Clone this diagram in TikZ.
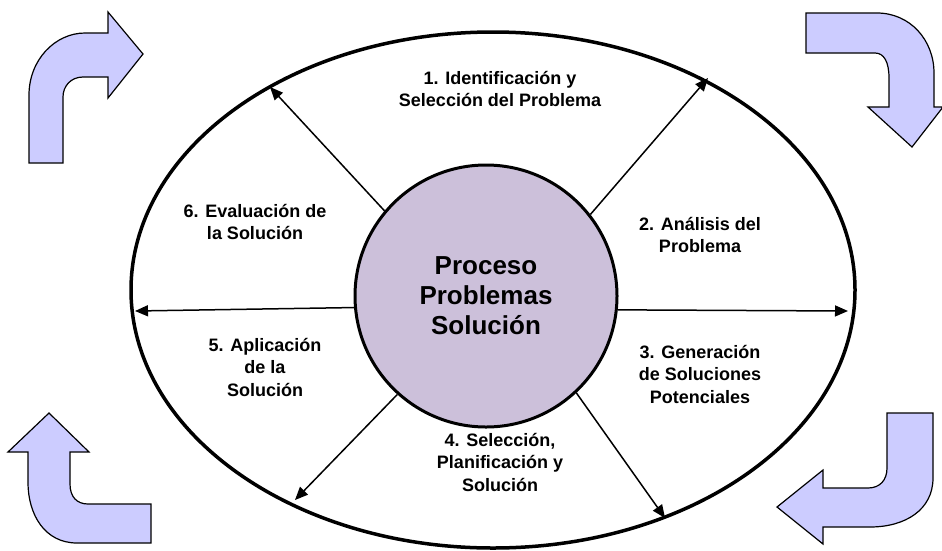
\documentclass[tikz,border=0pt]{standalone}
\usepackage{fontspec}
\setmainfont{Liberation Sans}
\usetikzlibrary{arrows.meta}
\definecolor{arrowfill}{RGB}{204,204,255}
\definecolor{hubfill}{RGB}{204,192,218}

\begin{document}
\begin{tikzpicture}[x=1pt,y=-1pt,>={Triangle[length=13pt,width=11pt]},
  stagetext/.style={align=center,font=\bfseries\fontsize{18}{22.5}\selectfont},
  bentarrow/.style={fill=arrowfill,draw=black,line width=1.2pt,line join=miter},
  spoke/.style={->,line width=1.5pt}]
\useasboundingbox (0,0) rectangle (942,550);

% Outer ring
\draw[line width=3.5pt] (493,290) ellipse [x radius=362,y radius=258];

% Hub
\node[circle,draw,line width=3pt,fill=hubfill,minimum size=262pt,inner sep=0pt,align=center,
  font=\bfseries\fontsize{26}{30}\selectfont] (hub) at (486,296) {Proceso\\Problemas\\Solución};

% Spoke ends on the ring
\coordinate (e1) at (270,87);
\coordinate (e2) at (708,78);
\coordinate (e3) at (848,311);
\coordinate (e4) at (665,518);
\coordinate (e5) at (295,500);
\coordinate (e6) at (135,311);

\draw[spoke] (hub.140) -- (e1);
\draw[spoke] (hub.38) -- (e2);
\draw[spoke] (hub.-6.6) -- (e3);
\draw[spoke] (hub.-47) -- (e4);
\draw[spoke] (hub.228) -- (e5);
\draw[spoke] (hub.185) -- (e6);

% Stage labels
\node[stagetext] (s1) at (500,89) {1. Identificación y\\Selección del Problema};
\node[stagetext] (s2) at (700,235) {2. Análisis del\\Problema};
\node[stagetext] (s3) at (700,374) {3. Generación\\de Soluciones\\Potenciales};
\node[stagetext] (s4) at (500,462) {4. Selección,\\Planificación y\\Solución};
\node[stagetext] (s5) at (265,367) {5. Aplicación\\de la\\Solución};
\node[stagetext] (s6) at (255,222) {6. Evaluación de\\la Solución};

% Bent arrows in the corners
\draw[bentarrow] (29,163) -- (29,95) .. controls (29,60) and (55,33) .. (85,33)
  -- (108,33) -- (108,12) -- (143,54) -- (108,98) -- (108,77) -- (83,77)
  .. controls (71,77) and (63,86) .. (63,97) -- (63,163) -- cycle;
\draw[bentarrow] (806,13) -- (877,13) .. controls (910,13) and (934,40) .. (934,73)
  -- (934,107) -- (943,107) -- (912,147) -- (868,107) -- (889,107) -- (889,78)
  .. controls (889,62) and (884,53) .. (875,53) -- (806,53) -- cycle;
\draw[bentarrow] (49,413) -- (89,452) -- (70,452) -- (70,484)
  .. controls (70,497) and (77,504) .. (88,504) -- (151,504) -- (151,543) -- (77,543)
  .. controls (45,543) and (28,515) .. (28,482) -- (28,452) -- (8,452) -- cycle;
\draw[bentarrow] (887,413) -- (933,413) -- (933,478) .. controls (933,510) and (905,527) .. (870,527)
  -- (823,527) -- (823,544) -- (777,507) -- (823,470) -- (823,488) -- (868,488)
  .. controls (880,488) and (887,480) .. (887,468) -- cycle;
\end{tikzpicture}
\end{document}
